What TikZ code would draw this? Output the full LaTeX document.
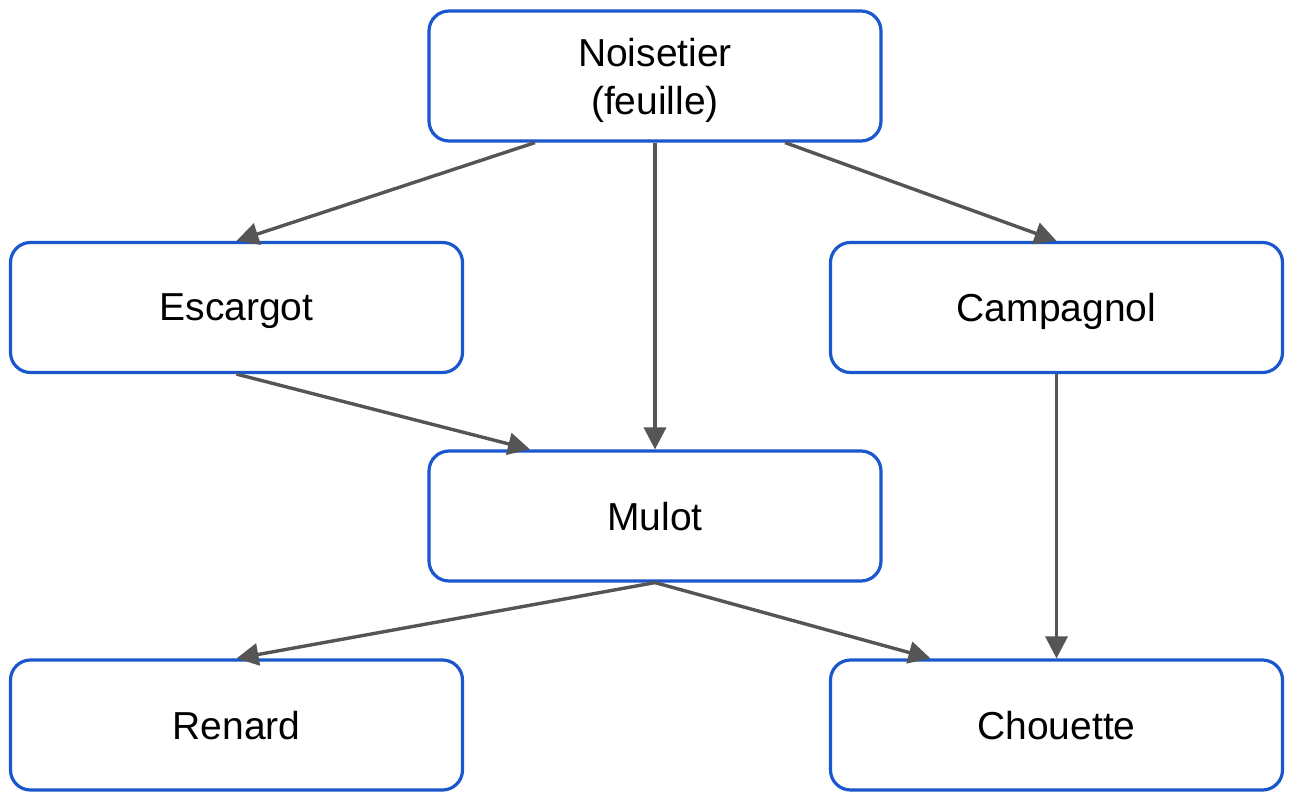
\documentclass[tikz,border=0pt]{standalone}
\usepackage{fontspec}
\setmainfont{Liberation Sans}
\usetikzlibrary{arrows.meta}
\definecolor{boxblue}{HTML}{1A56CC}
\definecolor{arrgray}{HTML}{555555}
\begin{document}
\begin{tikzpicture}[x=1pt,y=-1pt,
  box/.style={draw=boxblue,line width=3.2pt,rounded corners=20pt,fill=white,
    minimum width=452pt,minimum height=130pt,align=center,inner sep=0pt,
    text depth=0pt,font=\fontsize{39}{48}\selectfont},
  arr/.style={draw=arrgray,line width=3.4pt,-{Triangle[length=22pt,width=22pt]}}]
\useasboundingbox (0,0) rectangle (1289,794);
\node[box] (noi) at (655,76) {Noisetier\\(feuille)};
\node[box] (esc) at (236.5,307.5) {Escargot};
\node[box] (cam) at (1056.5,307.5) {Campagnol};
\node[box] (mul) at (655,516) {Mulot};
\node[box] (ren) at (236.5,725) {Renard};
\node[box] (cho) at (1056.5,725) {Chouette};
\draw[arr] ([xshift=-120pt]noi.south) -- (esc.north);
\draw[arr] (noi.south) -- (mul.north);
\draw[arr] ([xshift=130pt]noi.south) -- (cam.north);
\draw[arr] (esc.south) -- ([xshift=-125pt]mul.north);
\draw[arr] (cam.south) -- (cho.north);
\draw[arr] (mul.south) -- (ren.north);
\draw[arr] (mul.south) -- ([xshift=-126pt]cho.north);
\end{tikzpicture}
\end{document}
